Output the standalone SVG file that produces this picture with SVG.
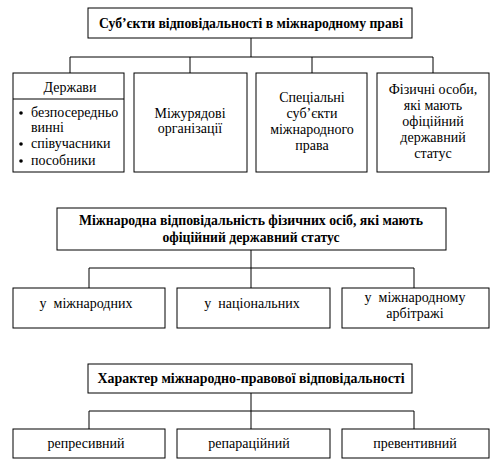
<svg xmlns="http://www.w3.org/2000/svg" width="494" height="467" viewBox="0 0 494 467">
<style>
rect{fill:#fff;stroke:#000;stroke-width:1}
line,path{stroke:#000;stroke-width:1;fill:none}
text{font-family:"Liberation Serif","Times New Roman",serif;font-size:14px;fill:#000;text-anchor:middle}
.b{font-weight:bold}
.l{text-anchor:start}
</style>
<rect x="0" y="0" width="494" height="467" style="stroke:none"/>
<g id="connectors">
<path d="M251 38V57M70 73V57H433V73M190 57V73M312 57V73"/>
<path d="M251 250V268M89 288V268H414V288M251 268V288"/>
<path d="M251 393V411M89 429V411H414V429M251 411V429"/>
</g>
<g id="n-top"><rect x="88" y="8" width="324" height="30"/><text class="b" x="251" y="28" textLength="304" lengthAdjust="spacingAndGlyphs">Суб’єкти відповідальності в міжнародному праві</text></g>
<g id="n-states"><rect x="13" y="73" width="111" height="99"/><line x1="13" y1="99" x2="124" y2="99"/>
<text x="70" y="92">Держави</text>
<circle cx="21" cy="113" r="1.8"/><circle cx="21" cy="144" r="1.8"/><circle cx="21" cy="161" r="1.8"/>
<text class="l" x="31" y="117">безпосередньо</text>
<text class="l" x="31" y="132">винні</text>
<text class="l" x="31" y="148">співучасники</text>
<text class="l" x="31" y="165">пособники</text></g>
<g id="n-igo"><rect x="134" y="73" width="113" height="99"/><text x="190" y="118">Міжурядові</text><text x="190" y="133">організації</text></g>
<g id="n-special"><rect x="256" y="73" width="111" height="99"/><text x="312" y="102">Спеціальні</text><text x="312" y="118">суб’єкти</text><text x="312" y="134">міжнародного</text><text x="312" y="150">права</text></g>
<g id="n-persons"><rect x="377" y="73" width="112" height="99"/><text x="433" y="94">Фізичні особи,</text><text x="433" y="110">які мають</text><text x="433" y="126">офіційний</text><text x="433" y="142">державний</text><text x="433" y="158">статус</text></g>
<g id="n-resp"><rect x="57" y="208" width="389" height="42"/><text class="b" x="251" y="225" textLength="344" lengthAdjust="spacingAndGlyphs">Міжнародна відповідальність фізичних осіб, які мають</text><text class="b" x="251" y="242" textLength="177" lengthAdjust="spacingAndGlyphs">офіційний державний статус</text></g>
<g id="n-intl"><rect x="13" y="288" width="152" height="40"/><text x="86" y="308" xml:space="preserve">у  міжнародних</text></g>
<g id="n-nat"><rect x="177" y="288" width="153" height="40"/><text x="252" y="308" xml:space="preserve">у  національних</text></g>
<g id="n-arb"><rect x="342" y="288" width="147" height="40"/><text x="415" y="302" xml:space="preserve">у  міжнародному</text><text x="415" y="318">арбітражі</text></g>
<g id="n-char"><rect x="88" y="364" width="324" height="29"/><text class="b" x="251" y="383" textLength="307" lengthAdjust="spacingAndGlyphs">Характер міжнародно-правової відповідальності</text></g>
<g id="n-rep"><rect x="13" y="429" width="152" height="29"/><text x="86" y="448">репресивний</text></g>
<g id="n-repar"><rect x="177" y="429" width="153" height="29"/><text x="249" y="448">репараційний</text></g>
<g id="n-prev"><rect x="342" y="429" width="147" height="29"/><text x="415" y="448">превентивний</text></g>
</svg>
